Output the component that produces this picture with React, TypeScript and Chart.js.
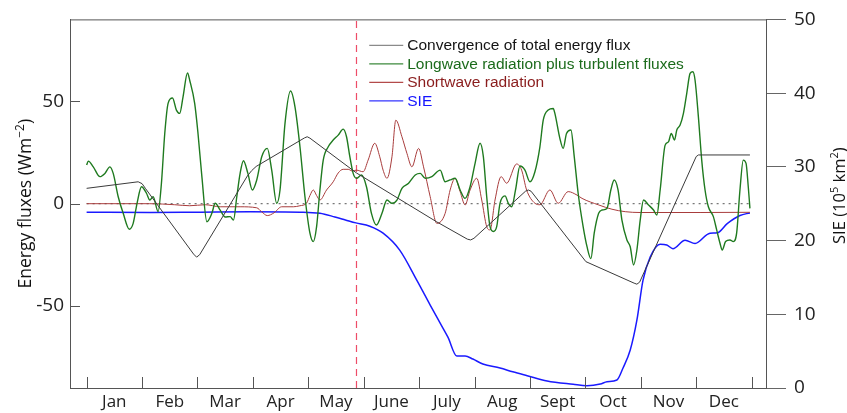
import React, { useEffect, useRef } from "react";
import { Chart, registerables } from "chart.js";

Chart.register(...registerables);

const MONTHS = ["Jan", "Feb", "Mar", "Apr", "May", "June", "July", "Aug", "Sept", "Oct", "Nov", "Dec"];
const MONTH_EDGES = [0, 1, 2, 3, 4, 5, 6, 7, 8, 9, 10, 11, 12];
const LEFT_TICKS = [-50, 0, 50];
const MARKER_MONTH = 4.87;

const LABEL_CONV = "Convergence of total energy flux";
const LABEL_LW = "Longwave radiation plus turbulent fluxes";
const LABEL_SW = "Shortwave radiation";
const LABEL_SIE = "SIE";

// [month position, W m^-2]
const CONVERGENCE: [number, number][] = [
  [0, 7.5], [0.93, 10.7], [1.0, 9.8], [1.06, 7.5], [1.93, -24.6], [1.985, -26.1], [2.04, -24.9],
  [2.9, 13.5], [2.98, 16.2], [3.06, 18.2], [3.93, 32.1], [3.98, 32.7], [4.03, 32.0], [4.87, 15.0],
  [6.32, -8.9], [6.87, -17.3], [6.93, -17.7], [6.99, -16.9], [7.92, 6.1], [7.97, 6.7], [8.02, 6.1],
  [9.01, -28.3], [9.88, -38.8], [9.93, -39.3], [9.98, -38.3], [11.0, 23.0], [11.04, 23.8], [11.97, 23.8],
];

const LONGWAVE: [number, number][] = [
  [0, 18.9], [0.03, 20.8], [0.12, 18.0], [0.24, 13.2], [0.33, 14.8], [0.42, 18.0], [0.48, 14.8],
  [0.57, 3.4], [0.66, -4.7], [0.77, -12.5], [0.84, -9.6], [0.91, 0.2], [0.99, 8.3], [1.08, 5.1],
  [1.14, 1.8], [1.2, 3.4], [1.29, -3.9], [1.35, 10.0], [1.41, 34.3], [1.47, 49.0], [1.55, 51.6],
  [1.62, 45.7], [1.68, 44.1], [1.74, 52.2], [1.82, 63.8], [1.86, 60.3], [1.95, 49.0], [2.01, 34.3],
  [2.08, 13.2], [2.17, -8.8], [2.26, -4.7], [2.32, 0.2], [2.41, -3.1], [2.5, -6.5], [2.59, -6.3],
  [2.65, -8.0], [2.71, 3.4], [2.77, 14.8], [2.83, 21.0], [2.91, 14.8], [2.99, 6.7], [3.07, 11.6],
  [3.16, 22.9], [3.26, 27.0], [3.34, 16.4], [3.43, 0.2], [3.49, 6.7], [3.58, 39.2], [3.68, 55.0],
  [3.76, 47.3], [3.85, 27.8], [3.94, 3.4], [4.03, -14.4], [4.09, -18.5], [4.15, -11.2], [4.21, 6.7],
  [4.27, 21.3], [4.36, 27.8], [4.45, 31.1], [4.54, 33.5], [4.63, 36.4], [4.69, 32.7], [4.75, 23.0],
  [4.81, 14.8], [4.87, 12.4], [4.96, 14.0], [5.05, 8.3], [5.14, -4.7], [5.23, -10.4], [5.33, -4.7],
  [5.42, 1.8], [5.51, 0.2], [5.6, 1.8], [5.69, 7.5], [5.81, 10.0], [5.93, 14.0], [6.02, 14.8],
  [6.11, 12.4], [6.23, 13.2], [6.38, 16.4], [6.47, 10.7], [6.56, 11.6], [6.65, 12.4], [6.74, 6.7],
  [6.83, 2.6], [6.92, 8.3], [7.01, 19.7], [7.1, 29.5], [7.16, 22.9], [7.22, 3.4], [7.28, -11.2],
  [7.34, -13.6], [7.4, -11.2], [7.46, 0.2], [7.55, 3.8], [7.61, 0.2], [7.67, -1.5], [7.74, 6.7],
  [7.82, 18.4], [7.91, 16.4], [8.0, 10.7], [8.09, 15.6], [8.18, 27.8], [8.24, 40.8], [8.33, 45.7],
  [8.42, 46.5], [8.45, 44.1], [8.54, 31.9], [8.6, 27.0], [8.66, 34.3], [8.74, 36.0], [8.8, 22.9],
  [8.87, 5.1], [8.96, -11.2], [9.03, -21.0], [9.1, -26.8], [9.16, -14.4], [9.24, -4.7], [9.3, -3.1],
  [9.39, -2.3], [9.46, 6.7], [9.52, 11.6], [9.59, 6.7], [9.66, -8.0], [9.75, -17.7], [9.81, -21.0],
  [9.87, -29.9], [9.93, -22.6], [9.99, -8.0], [10.05, 1.8], [10.14, -0.6], [10.23, -3.1], [10.29, -5.5],
  [10.35, 6.7], [10.44, 28.6], [10.5, 30.2], [10.55, 34.3], [10.61, 31.1], [10.65, 36.0], [10.71, 38.4],
  [10.77, 44.1], [10.83, 53.9], [10.89, 63.6], [10.94, 64.4], [10.98, 60.3], [11.04, 42.4], [11.1, 21.3],
  [11.16, 6.7], [11.22, -1.5], [11.31, -6.3], [11.37, -12.8], [11.43, -19.3], [11.47, -22.6], [11.53, -18.5],
  [11.61, -17.7], [11.67, -18.5], [11.73, -14.4], [11.79, 6.7], [11.85, 21.3], [11.9, 19.7], [11.94, 8.3],
  [11.97, -2.3],
];

const SHORTWAVE: [number, number][] = [
  [0, 0], [1.14, 0], [1.59, -0.5], [1.86, -1.0], [2.14, -0.5], [2.41, -1.5], [2.77, -1.5], [3.07, -2.0],
  [3.16, -4.0], [3.26, -5.8], [3.38, -4.5], [3.52, -1.5], [3.73, -1.5], [3.85, -1.0], [3.97, 0.3],
  [4.03, 4.0], [4.09, 6.7], [4.15, 4.0], [4.21, 1.8], [4.33, 6.7], [4.45, 10.7], [4.54, 15.0],
  [4.63, 16.8], [4.72, 16.8], [4.79, 16.0], [4.87, 16.4], [4.99, 15.6], [5.08, 21.3], [5.2, 29.5],
  [5.29, 22.9], [5.35, 16.4], [5.42, 12.4], [5.51, 22.9], [5.58, 40.8], [5.69, 32.7], [5.78, 24.6],
  [5.87, 18.0], [5.99, 27.0], [6.08, 18.0], [6.2, 3.4], [6.32, -9.6], [6.47, -4.7], [6.56, 6.7],
  [6.65, 12.4], [6.74, 5.9], [6.83, -0.6], [6.92, 6.7], [7.04, 12.4], [7.13, 1.8], [7.22, -11.2],
  [7.28, -12.8], [7.37, 1.8], [7.48, 13.2], [7.58, 10.0], [7.76, 19.4], [7.85, 16.4], [7.94, 6.7],
  [8.09, 0.2], [8.18, -0.5], [8.36, 6.7], [8.51, 0.2], [8.69, 5.9], [8.85, 4.2], [8.94, 2.6],
  [9.24, -0.6], [9.48, -2.7], [9.72, -3.9], [9.99, -4.3], [11.07, -4.3], [11.97, -4.2],
];

// [month position, 10^5 km^2]
const SIE: [number, number][] = [
  [0, 23.85], [1.14, 23.8], [2.05, 23.85], [2.95, 23.9], [3.85, 23.85], [4.21, 23.7], [4.48, 23.2],
  [4.67, 22.8], [4.86, 22.4], [5.11, 21.95], [5.35, 21.0], [5.65, 18.7], [5.96, 14.6], [6.2, 11.25],
  [6.38, 8.8], [6.52, 6.9], [6.68, 4.34], [6.83, 4.34], [6.97, 3.93], [7.15, 3.25], [7.46, 2.71],
  [7.69, 2.2], [7.95, 1.67], [8.31, 0.95], [8.78, 0.5], [9.03, 0.31], [9.27, 0.54], [9.39, 0.85],
  [9.57, 1.08], [9.68, 2.71], [9.81, 5.15], [9.93, 9.2], [10.04, 14.6], [10.17, 17.75], [10.35, 19.5],
  [10.47, 19.4], [10.58, 18.9], [10.8, 20.05], [10.98, 19.6], [11.25, 21.0], [11.38, 21.05],
  [11.56, 22.3], [11.79, 23.4], [11.97, 23.75],
];

const toPts = (arr: [number, number][]) => arr.map(([x, y]) => ({ x, y }));

const LEGEND_ITEMS = [
  { label: LABEL_CONV, line: "#8a8a8a", text: "#141414" },
  { label: LABEL_LW, line: "#3d8a3d", text: "#1c6b1c" },
  { label: LABEL_SW, line: "#b34a4a", text: "#8a1c1c" },
  { label: LABEL_SIE, line: "#3535ff", text: "#1414ff" },
];

const overlayPlugin = {
  id: "overlay",
  afterDraw(chart: any) {
    const { ctx, chartArea } = chart;
    const { left, right, top, bottom } = chartArea;
    const x = chart.scales.x;
    const y = chart.scales.y;
    ctx.save();
    ctx.strokeStyle = "#555";
    ctx.lineWidth = 1;
    ctx.beginPath();
    ctx.moveTo(left, top + 0.5);
    ctx.lineTo(right, top + 0.5);
    MONTH_EDGES.forEach((v) => {
      const px = Math.round(x.getPixelForValue(v)) + 0.5;
      ctx.moveTo(px, bottom);
      ctx.lineTo(px, bottom - 11);
    });
    LEFT_TICKS.forEach((v) => {
      const py = Math.round(y.getPixelForValue(v)) + 0.5;
      ctx.moveTo(left, py);
      ctx.lineTo(left + 10, py);
    });
    ctx.stroke();

    // legend
    ctx.font = "15.5px 'Liberation Sans', Arial, sans-serif";
    ctx.textBaseline = "middle";
    ctx.textAlign = "left";
    const lx0 = x.getPixelForValue(5.1);
    LEGEND_ITEMS.forEach((it, i) => {
      const cy = top + 26 + i * 18.5;
      ctx.strokeStyle = it.line;
      ctx.lineWidth = 1.3;
      ctx.beginPath();
      ctx.moveTo(lx0, cy);
      ctx.lineTo(lx0 + 34, cy);
      ctx.stroke();
      ctx.fillStyle = it.text;
      ctx.fillText(it.label, lx0 + 38, cy + 0.5);
    });

    // axis titles
    const drawRotated = (parts: { t: string; sup?: boolean }[], cx: number, cy: number, size: number) => {
      ctx.save();
      ctx.translate(cx, cy);
      ctx.rotate(-Math.PI / 2);
      ctx.fillStyle = "#111";
      ctx.textBaseline = "alphabetic";
      ctx.textAlign = "left";
      const mainFont = `${size}px 'Open Sans', sans-serif`;
      const supFont = `${Math.round(size * 0.68)}px 'Open Sans', sans-serif`;
      let total = 0;
      parts.forEach((p) => {
        ctx.font = p.sup ? supFont : mainFont;
        total += ctx.measureText(p.t).width;
      });
      let pos = -total / 2;
      parts.forEach((p) => {
        ctx.font = p.sup ? supFont : mainFont;
        ctx.fillText(p.t, pos, p.sup ? -size * 0.4 : 0);
        pos += ctx.measureText(p.t).width;
      });
      ctx.restore();
    };
    drawRotated([{ t: "Energy fluxes (Wm" }, { t: "\u22122", sup: true }, { t: ")" }], 31, (top + bottom) / 2, 17.5);
    drawRotated(
      [{ t: "SIE (10" }, { t: "5", sup: true }, { t: " km" }, { t: "2", sup: true }, { t: ")" }],
      845,
      (top + bottom) / 2 - 8,
      16.5
    );
    ctx.restore();
  },
};

export default function App() {
  const ref = useRef<HTMLCanvasElement | null>(null);
  useEffect(() => {
    document.body.style.margin = "0";
    if (!ref.current) return;
    const tickFont = { family: "'Open Sans', sans-serif", size: 19 };
    const chart = new Chart(ref.current, {
      type: "line",
      data: {
        datasets: [
          {
            label: LABEL_CONV,
            data: toPts(CONVERGENCE),
            borderColor: "#3a3a3a",
            borderWidth: 1,
            pointRadius: 0,
            tension: 0,
            yAxisID: "y",
          },
          {
            label: LABEL_LW,
            data: toPts(LONGWAVE),
            borderColor: "#1f7a1f",
            borderWidth: 1.4,
            pointRadius: 0,
            cubicInterpolationMode: "monotone",
            yAxisID: "y",
          },
          {
            label: LABEL_SW,
            data: toPts(SHORTWAVE),
            borderColor: "#a83c3c",
            borderWidth: 1,
            pointRadius: 0,
            cubicInterpolationMode: "monotone",
            yAxisID: "y",
          },
          {
            label: LABEL_SIE,
            data: toPts(SIE),
            borderColor: "#1a1aff",
            borderWidth: 1.5,
            pointRadius: 0,
            cubicInterpolationMode: "monotone",
            yAxisID: "y2",
          },
          {
            label: "zero",
            data: [{ x: 0, y: 0 }, { x: 12, y: 0 }],
            borderColor: "#777",
            borderWidth: 1.3,
            borderDash: [2, 4],
            pointRadius: 0,
            yAxisID: "y",
          },
          {
            label: "marker",
            data: [{ x: MARKER_MONTH, y: -90 }, { x: MARKER_MONTH, y: 90 }],
            borderColor: "#ee4d68",
            borderWidth: 1.2,
            borderDash: [7, 5],
            pointRadius: 0,
            yAxisID: "y",
          },
        ],
      },
      options: {
        responsive: false,
        animation: false,
        devicePixelRatio: 1,
        layout: { padding: { top: 19, left: 0, right: 0, bottom: 0 } },
        plugins: { legend: { display: false }, tooltip: { enabled: false }, title: { display: false } },
        scales: {
          x: {
            type: "linear",
            min: -0.3,
            max: 12.26,
            afterBuildTicks: (s: any) => {
              s.ticks = MONTHS.map((_, i) => ({ value: i + 0.5 }));
            },
            afterFit: (s: any) => {
              s.height = 25;
            },
            ticks: {
              autoSkip: false,
              maxRotation: 0,
              padding: 4,
              color: "#222",
              font: { family: "'Open Sans', sans-serif", size: 17 },
              callback: (v: any) => MONTHS[Math.floor(Number(v))] ?? "",
            },
            grid: { display: false, drawTicks: false },
            border: { display: true, color: "#555", width: 1 },
          },
          y: {
            position: "left",
            min: -90,
            max: 90,
            afterBuildTicks: (s: any) => {
              s.ticks = LEFT_TICKS.map((v) => ({ value: v }));
            },
            afterFit: (s: any) => {
              s.width = 70;
            },
            ticks: { padding: 6, color: "#222", font: tickFont },
            grid: { display: false, drawTicks: false },
            border: { display: true, color: "#555", width: 1 },
          },
          y2: {
            position: "right",
            min: 0,
            max: 50,
            ticks: { stepSize: 10, padding: 8, color: "#222", font: tickFont },
            afterFit: (s: any) => {
              s.width = 81;
            },
            grid: { drawOnChartArea: false, drawTicks: true, tickLength: 20, color: "#666" },
            border: { display: true, color: "#555", width: 1 },
          },
        },
      },
      plugins: [overlayPlugin],
    } as any);
    return () => chart.destroy();
  }, []);
  return <canvas ref={ref} width={847} height={413} style={{ display: "block" }} />;
}
